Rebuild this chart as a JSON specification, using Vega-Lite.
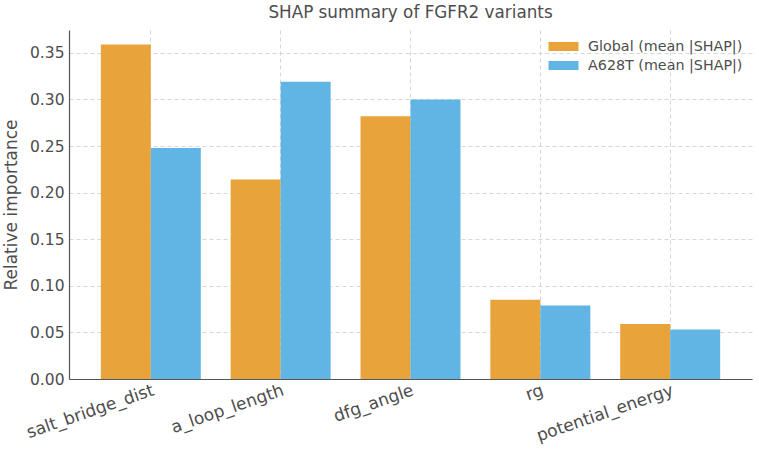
{
  "$schema": "https://vega.github.io/schema/vega-lite/v6.json",
  "autosize": "none",
  "width": 683,
  "height": 349,
  "padding": {"left": 69, "top": 30, "right": 7, "bottom": 70},
  "title": {"text": "SHAP summary of FGFR2 variants", "fontSize": 16.8, "font": "DejaVu Sans", "fontWeight": "normal", "color": "#4d4d4d", "offset": 8},
  "config": {
    "view": {"stroke": null},
    "font": "DejaVu Sans"
  },
  "data": {"values": [
    {"feature": "salt_bridge_dist", "series": "Global (mean |SHAP|)", "value": 0.359},
    {"feature": "salt_bridge_dist", "series": "A628T (mean |SHAP|)", "value": 0.248},
    {"feature": "a_loop_length", "series": "Global (mean |SHAP|)", "value": 0.214},
    {"feature": "a_loop_length", "series": "A628T (mean |SHAP|)", "value": 0.319},
    {"feature": "dfg_angle", "series": "Global (mean |SHAP|)", "value": 0.282},
    {"feature": "dfg_angle", "series": "A628T (mean |SHAP|)", "value": 0.300},
    {"feature": "rg", "series": "Global (mean |SHAP|)", "value": 0.085},
    {"feature": "rg", "series": "A628T (mean |SHAP|)", "value": 0.079},
    {"feature": "potential_energy", "series": "Global (mean |SHAP|)", "value": 0.059},
    {"feature": "potential_energy", "series": "A628T (mean |SHAP|)", "value": 0.053}
  ]},
  "mark": {"type": "bar"},
  "encoding": {
    "x": {
      "field": "feature", "type": "nominal",
      "sort": ["salt_bridge_dist", "a_loop_length", "dfg_angle", "rg", "potential_energy"],
      "scale": {"paddingInner": 0.23, "paddingOuter": 0.245},
      "axis": {
        "title": null, "labelAngle": -19, "labelAlign": "right", "labelBaseline": "top",
        "labelFontSize": 17, "labelColor": "#4d4d4d", "labelPadding": 3,
        "ticks": false, "domainColor": "#555555", "domainWidth": 1.2,
        "grid": true, "bandPosition": 0.5, "gridDash": [4, 3], "gridColor": "#cccccc", "gridWidth": 0.8
      }
    },
    "xOffset": {"field": "series", "type": "nominal", "sort": ["Global (mean |SHAP|)", "A628T (mean |SHAP|)"], "scale": {"paddingInner": 0, "paddingOuter": 0}},
    "y": {
      "field": "value", "type": "quantitative",
      "scale": {"domain": [0, 0.3745], "nice": false},
      "axis": {
        "title": "Relative importance", "titleFontSize": 17, "titleFontWeight": "normal", "titleColor": "#4d4d4d", "titlePadding": 9,
        "values": [0, 0.05, 0.1, 0.15, 0.2, 0.25, 0.3, 0.35], "format": ".2f",
        "labelFontSize": 15.5, "labelColor": "#4d4d4d", "labelPadding": 5, "ticks": false,
        "domainColor": "#555555", "domainWidth": 1.2,
        "gridDash": [4, 3], "gridColor": "#cccccc", "gridWidth": 0.8
      }
    },
    "color": {
      "field": "series", "type": "nominal",
      "sort": ["Global (mean |SHAP|)", "A628T (mean |SHAP|)"],
      "scale": {"domain": ["Global (mean |SHAP|)", "A628T (mean |SHAP|)"], "range": ["#E8A33A", "#61B5E5"]},
      "legend": {
        "title": null, "orient": "top-right", "offset": 9,
        "symbolType": "M-2,-0.6H2V0.6H-2Z", "symbolSize": 225, "symbolStrokeWidth": 0, "symbolOpacity": 1,
        "labelFontSize": 14.3, "labelColor": "#4d4d4d", "labelOffset": 17, "rowPadding": 4
      }
    }
  }
}
